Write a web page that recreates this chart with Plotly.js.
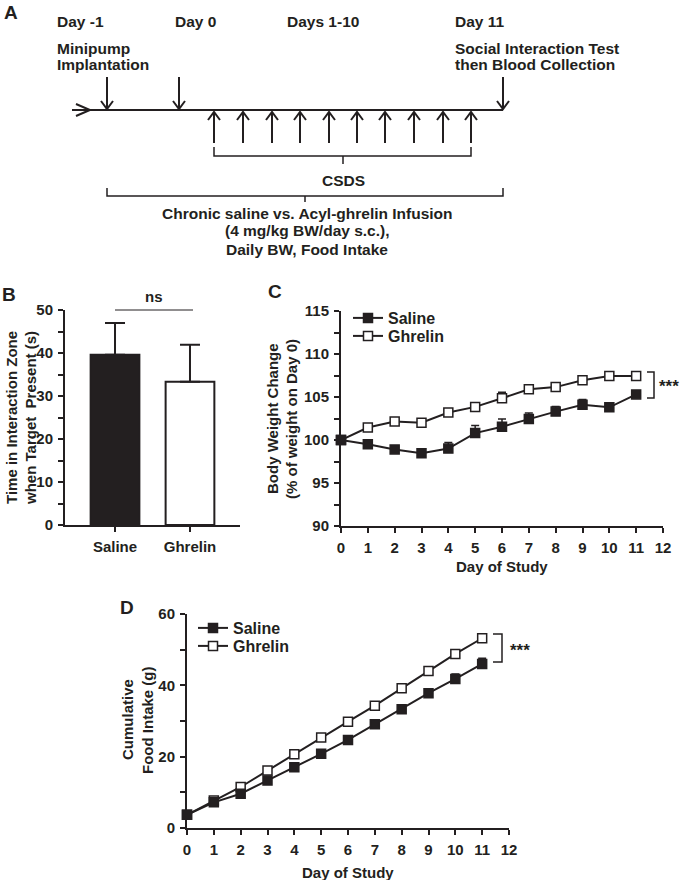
<!DOCTYPE html>
<html><head><meta charset="utf-8">
<script src="https://cdn.plot.ly/plotly-3.0.1.min.js"></script>
<style>html,body{margin:0;padding:0;background:#fff}</style>
</head><body><div id="chart" style="width:685px;height:880px"></div>
<script>
// ---------- data ----------
const groups = ['Saline', 'Ghrelin'];
const timeInZone = [39.6, 33.3];
const timeInZoneSEM = [7.4, 8.6];

const days = [0, 1, 2, 3, 4, 5, 6, 7, 8, 9, 10, 11];
const bwSaline = [100, 99.5, 98.9, 98.45, 99.0, 100.8, 101.55, 102.45, 103.3, 104.1, 103.8, 105.3];
const bwSalineSEM = [0.3, 0.2, 0.2, 0.3, 0.7, 0.9, 0.9, 0.7, 0.6, 0.6, 0.5, 0.3];
const bwGhrelin = [100, 101.45, 102.15, 102.0, 103.2, 103.85, 104.85, 105.9, 106.15, 106.95, 107.45, 107.45];
const bwGhrelinSEM = [0.2, 0.3, 0.3, 0.4, 0.4, 0.4, 0.7, 0.3, 0.3, 0.3, 0.3, 0.3];

const foodSaline = [3.7, 7.2, 9.6, 13.3, 17.0, 20.8, 24.7, 29.1, 33.3, 37.8, 41.8, 46.0];
const foodSalineSEM = [0.5, 0.5, 0.6, 0.7, 0.7, 0.8, 0.9, 1.0, 1.1, 1.2, 1.4, 1.6];
const foodGhrelin = [3.7, 7.7, 11.5, 16.1, 20.7, 25.4, 29.8, 34.3, 39.2, 44.0, 48.8, 53.2];
const foodGhrelinSEM = [0.5, 0.5, 0.6, 0.6, 0.7, 0.8, 0.8, 0.8, 0.9, 0.9, 1.0, 1.2];

// ---------- helpers ----------
const W = 685, H = 880;
const INK = '#231f20';
const FONT = 'Liberation Sans, Arial, Helvetica, sans-serif';
const P = x => x / W;
const Q = y => 1 - y / H;
const zeros = a => a.map(() => 0);
const bold = (size) => ({family: FONT, size: size, color: INK, weight: 'bold'});

const axBase = {
  showline: true, linewidth: 2, linecolor: INK,
  ticks: 'outside', ticklen: 5, tickwidth: 2, tickcolor: INK,
  showgrid: false, zeroline: false, fixedrange: true,
  tickfont: bold(15), ticklabelstandoff: 2
};
const minor = d => ({dtick: d, ticks: 'outside', ticklen: 5, tickwidth: 2, tickcolor: INK, showgrid: false});

// ---------- traces ----------
const traces = [];
traces.push({
  type: 'bar', x: groups, y: timeInZone, xaxis: 'x', yaxis: 'y', width: 0.65,
  marker: {color: [INK, '#ffffff'], line: {color: INK, width: 2}},
  error_y: {type: 'data', array: timeInZoneSEM, arrayminus: zeros(timeInZoneSEM), symmetric: false,
            color: INK, thickness: 2, width: 10},
  showlegend: false, hoverinfo: 'skip'
});

function series(x, y, err, filled, name, xa, ya, legend) {
  return {
    type: 'scatter', mode: 'lines+markers', x: x, y: y, xaxis: xa, yaxis: ya, name: name,
    legend: legend, cliponaxis: false,
    line: {color: INK, width: 2},
    marker: {symbol: 'square', size: 9, color: filled ? INK : '#ffffff', line: {color: INK, width: 1.5}},
    error_y: {type: 'data', array: err, arrayminus: zeros(err), symmetric: false,
              color: INK, thickness: 1.5, width: 4}
  };
}
traces.push(series(days, bwGhrelin, bwGhrelinSEM, false, 'Ghrelin', 'x2', 'y2', 'legend2'));
traces.push(series(days, bwSaline, bwSalineSEM, true, 'Saline', 'x2', 'y2', 'legend'));
traces.push(series(days, foodGhrelin, foodGhrelinSEM, false, 'Ghrelin', 'x3', 'y3', 'legend4'));
traces.push(series(days, foodSaline, foodSalineSEM, true, 'Saline', 'x3', 'y3', 'legend3'));

// ---------- legends ----------
function leg(x, y) {
  return {x: P(x), xanchor: 'left', y: Q(y), yanchor: 'middle', bgcolor: 'rgba(0,0,0,0)',
          borderwidth: 0, font: bold(16), itemclick: false, itemdoubleclick: false};
}

// ---------- shapes ----------
const shapes = [];
const ln = (pts, w) => shapes.push({
  type: 'path', xref: 'paper', yref: 'paper',
  path: 'M' + pts.map(p => P(p[0]) + ',' + Q(p[1])).join(' L'),
  line: {color: INK, width: w || 2}
});
// Panel A timeline
ln([[72, 110], [503, 110]]);
ln([[76, 104], [90, 110], [76, 116]]);
[107, 179, 503].forEach(x => { ln([[x, 77], [x, 109]]); ln([[x - 6, 101], [x, 109], [x + 6, 101]]); });
[214, 243, 272, 300, 329, 357, 385, 414, 443, 471].forEach(x => {
  ln([[x, 143], [x, 112]]); ln([[x - 6, 120], [x, 112], [x + 6, 120]]);
});
ln([[214, 147], [214, 156], [471, 156], [471, 147]], 1.5);
ln([[343, 156], [343, 164]], 1.5);
ln([[107, 188], [107, 196], [503, 196], [503, 188]], 1.5);
ln([[305, 196], [305, 202]], 1.5);
// ns line
ln([[115, 310], [193, 310]], 1);
// significance brackets
ln([[647, 372], [654, 372], [654, 398], [647, 398]], 1.5);
ln([[493, 634], [502, 634], [502, 662], [493, 662]], 1.5);

// ---------- annotations ----------
const annotations = [];
const txt = (x, y, text, size, xanchor, angle) => annotations.push({
  xref: 'paper', yref: 'paper', x: P(x), y: Q(y), text: text, showarrow: false,
  xanchor: xanchor || 'center', yanchor: 'middle', textangle: angle || 0,
  font: bold(size), align: 'center'
});
txt(2, 12, 'A', 19, 'left');
txt(0, 294, 'B', 19, 'left');
txt(266, 291, 'C', 19, 'left');
txt(118, 607, 'D', 19, 'left');

const AS = 15.5;
txt(55, 21, 'Day -1', AS, 'left');
txt(173, 21, 'Day 0', AS, 'left');
txt(285, 21, 'Days 1-10', AS, 'left');
txt(453, 21, 'Day 11', AS, 'left');
txt(55, 48, 'Minipump', AS, 'left');
txt(55, 65, 'Implantation', AS, 'left');
txt(453, 48, 'Social Interaction Test', AS, 'left');
txt(453, 65, 'then Blood Collection', AS, 'left');
txt(343, 180, 'CSDS', AS);
txt(307, 213, 'Chronic saline vs. Acyl-ghrelin Infusion', AS);
txt(307, 231, '(4 mg/kg BW/day s.c.),', AS);
txt(307, 249, 'Daily BW, Food Intake', AS);

txt(154, 296, 'ns', 15);
txt(11, 418, 'Time in Interaction Zone', 15, 'center', -90);
txt(30, 418, 'when Target &nbsp;Present (s)', 15, 'center', -90);
txt(273, 419, 'Body Weight Change', 15, 'center', -90);
txt(292, 419, '(% of weight on Day 0)', 15, 'center', -90);
txt(502, 566, 'Day of Study', 15);
txt(127, 720, 'Cumulative', 15, 'center', -90);
txt(147, 720, 'Food Intake (g)', 15, 'center', -90);
txt(348, 872, 'Day of Study', 15);
txt(657, 386, '***', 17, 'left');
txt(508, 650, '***', 17, 'left');

// ---------- layout ----------
const layout = {
  width: W, height: H, margin: {l: 0, r: 0, t: 0, b: 0},
  paper_bgcolor: '#ffffff', plot_bgcolor: 'rgba(0,0,0,0)',
  font: bold(15), showlegend: true, bargap: 0,
  xaxis: Object.assign({}, axBase, {type: 'category', domain: [P(65), P(240)], range: [-0.667, 1.667], anchor: 'y'}),
  yaxis: Object.assign({}, axBase, {domain: [Q(525), Q(310)], range: [0, 50], tick0: 0, dtick: 10, anchor: 'x', minor: minor(5)}),
  xaxis2: Object.assign({}, axBase, {domain: [P(341), P(663)], range: [0, 12], tick0: 0, dtick: 1, anchor: 'y2'}),
  yaxis2: Object.assign({}, axBase, {domain: [Q(526), Q(311)], range: [90, 115], tick0: 90, dtick: 5, anchor: 'x2', minor: minor(2.5)}),
  xaxis3: Object.assign({}, axBase, {domain: [P(187), P(509)], range: [0, 12], tick0: 0, dtick: 1, anchor: 'y3'}),
  yaxis3: Object.assign({}, axBase, {domain: [Q(828), Q(614)], range: [0, 60], tick0: 0, dtick: 20, anchor: 'x3', minor: minor(10)}),
  legend: leg(348, 318),
  legend2: leg(348, 336),
  legend3: leg(193, 628),
  legend4: leg(193, 646),
  shapes: shapes,
  annotations: annotations
};

Plotly.newPlot('chart', traces, layout, {staticPlot: true, displayModeBar: false});
</script>
</body></html>
